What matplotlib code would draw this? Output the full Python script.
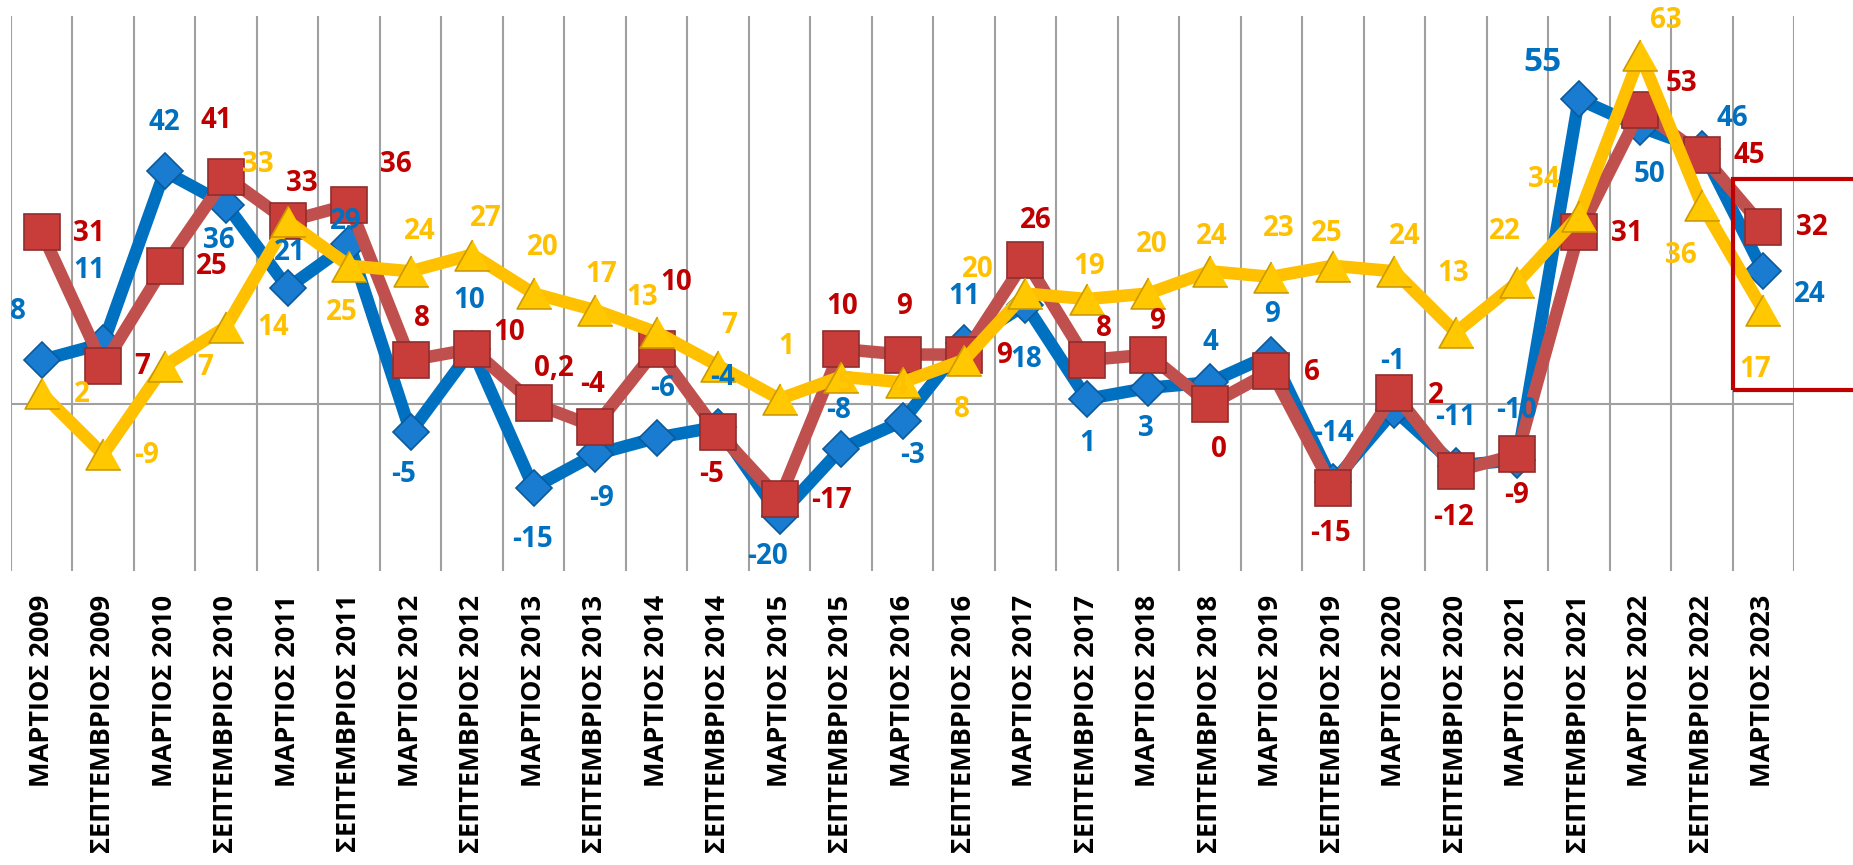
import numpy as np
import matplotlib.pyplot as plt
from matplotlib.patches import Rectangle

plt.rcParams['font.family'] = ['Open Sans', 'DejaVu Sans']

periodoi = ["ΜΑΡΤΙΟΣ 2009", "ΣΕΠΤΕΜΒΡΙΟΣ 2009", "ΜΑΡΤΙΟΣ 2010", "ΣΕΠΤΕΜΒΡΙΟΣ 2010",
            "ΜΑΡΤΙΟΣ 2011", "ΣΕΠΤΕΜΒΡΙΟΣ 2011", "ΜΑΡΤΙΟΣ 2012", "ΣΕΠΤΕΜΒΡΙΟΣ 2012",
            "ΜΑΡΤΙΟΣ 2013", "ΣΕΠΤΕΜΒΡΙΟΣ 2013", "ΜΑΡΤΙΟΣ 2014", "ΣΕΠΤΕΜΒΡΙΟΣ 2014",
            "ΜΑΡΤΙΟΣ 2015", "ΣΕΠΤΕΜΒΡΙΟΣ 2015", "ΜΑΡΤΙΟΣ 2016", "ΣΕΠΤΕΜΒΡΙΟΣ 2016",
            "ΜΑΡΤΙΟΣ 2017", "ΣΕΠΤΕΜΒΡΙΟΣ 2017", "ΜΑΡΤΙΟΣ 2018", "ΣΕΠΤΕΜΒΡΙΟΣ 2018",
            "ΜΑΡΤΙΟΣ 2019", "ΣΕΠΤΕΜΒΡΙΟΣ 2019", "ΜΑΡΤΙΟΣ 2020", "ΣΕΠΤΕΜΒΡΙΟΣ 2020",
            "ΜΑΡΤΙΟΣ 2021", "ΣΕΠΤΕΜΒΡΙΟΣ 2021", "ΜΑΡΤΙΟΣ 2022", "ΣΕΠΤΕΜΒΡΙΟΣ 2022",
            "ΜΑΡΤΙΟΣ 2023"]

mple = [8, 11, 42, 36, 21, 29, -5, 10, -15, -9, -6, -4, -20, -8, -3, 11, 18, 1, 3, 4,
        9, -14, -1, -11, -10, 55, 50, 46, 24]
kokkino = [31, 7, 25, 41, 33, 36, 8, 10, 0.2, -4, 10, -5, -17, 10, 9, 9, 26, 8, 9, 0,
           6, -15, 2, -12, -9, 31, 53, 45, 32]
kitrino = [2, -9, 7, 14, 33, 25, 24, 27, 20, 17, 13, 7, 1, 5, 4, 8, 20, 19, 20, 24,
           23, 25, 24, 13, 22, 34, 63, 36, 17]

# label offsets in pixels (dx right, dy down)
off_mple = [(-24, -49), (-14, -73), (0, -49), (-7, 36), (2, -35), (-3, -22), (-7, 42),
            (-3, -49), (-1, 52), (6, 44), (6, -49), (4, -49), (-12, 41), (-2, -38),
            (10, 34), (0, -47), (1, 55), (0, 45), (-2, 41), (0, -40), (1, -40), (1, -49),
            (-2, -49), (0, -48), (-1, -49), (-36, -37), (9, 47), (31, -31), (46, 23)]
off_kokkino = [(47, 1), (39, 1), (47, 1), (-10, -56), (14, -38), (47, -40), (11, -42),
               (37, -16), (20, -35), (-3, -42), (20, -67), (-6, 42), (52, 2), (1, -42),
               (2, -48), (40, 1), (10, -40), (17, -32), (9, -33), (9, 45), (41, 1),
               (-2, 46), (41, 2), (-2, 46), (-1, 41), (48, 1), (41, -27), (48, 1), (49, 1)]
off_kitrino = [(40, 1), (43, 1), (40, 2), (47, 1), (-30, -57), (-7, 47), (9, -40),
               (14, -36), (9, -46), (6, -36), (-14, -35), (11, -40), (7, -52), (5, 8),
               (-3, 4), (-2, 49), (-48, -24), (2, -33), (3, -49), (2, -35), (7, -48),
               (-6, -32), (10, -35), (-3, -59), (-13, -51), (-35, -36), (26, -34),
               (-21, 51), (-8, 59)]

x = np.arange(len(periodoi)) + 0.5

fig = plt.figure(figsize=(18.53, 8.65), dpi=100)
W, H = 1853, 865
ax = fig.add_axes([11 / W, 1 - 571 / H, (1794 - 11) / W, (571 - 16) / H])
ax.set_xlim(0, len(periodoi))
ax.set_ylim(-30, 70)

for k in range(len(periodoi) + 1):
    ax.axvline(k, color="#A0A0A0", lw=1.5, zorder=0)
ax.axhline(0, color="#A0A0A0", lw=1.5, zorder=0)

tri = [(0, 0.89), (-1, -0.89), (1, -0.89)]

ax.plot(x, mple, color="#0070C0", lw=9, marker="D", ms=18,
        mfc="#1A7CD0", mec="#0A5A9E", mew=1.2, zorder=2)
ax.plot(x, kokkino, color="#C0504D", lw=9, marker="s", ms=26,
        mfc="#C83C3A", mec="#8E2E2C", mew=1.2, zorder=3)
ax.plot(x, kitrino, color="#FFC000", lw=9, marker=tri, ms=25,
        mfc="#FFC800", mec="#CC9A00", mew=1.2, zorder=4)

def etiketes(vals, offs, col):
    for xi, v, (dx, dy) in zip(x, vals, offs):
        txt = f"{v:g}".replace(".", ",")
        fs = 24 if v == 55 else 20
        ax.annotate(txt, (xi, v), xytext=(dx, -dy), textcoords="offset pixels",
                    ha="center", va="center", fontsize=fs, fontweight="bold",
                    color=col, zorder=6, annotation_clip=False)

etiketes(mple, off_mple, "#0070C0")
etiketes(kokkino, off_kokkino, "#C00000")
etiketes(kitrino, off_kitrino, "#FFC000")

# highlight box on the last period
ax.add_patch(Rectangle((28, 2.6), 3, 38.0, fill=False, ec="#C00000", lw=3,
                       clip_on=False, zorder=7))

ax.set_xticks(x)
ax.set_xticklabels(periodoi, rotation=90, fontsize=19.5, fontweight="bold")
ax.tick_params(axis="x", length=0, pad=17)
ax.set_yticks([])
for s in ax.spines.values():
    s.set_visible(False)

fig.savefig("out.png", dpi=100)
